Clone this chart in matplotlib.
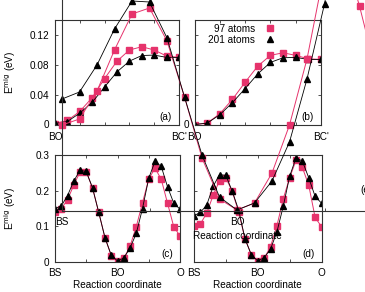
import matplotlib
matplotlib.use('Agg')
import matplotlib.pyplot as plt
from matplotlib.lines import Line2D

plt.rcParams['font.family'] = ['Liberation Sans', 'DejaVu Sans']
plt.rcParams['font.size'] = 7.2

PINK = '#e6336c'
BLACK = '#000000'

# panel (a): BO -> BC'
a_97 = [0.0013, 0.0054, 0.0175, 0.036, 0.0616, 0.0849, 0.0998, 0.1042, 0.0998, 0.0917, 0.0899]
a_201 = [0.0015, 0.004, 0.0152, 0.0297, 0.0503, 0.0705, 0.0849, 0.0924, 0.0930, 0.0899, 0.0899]
# panel (b): BO -> BC'
b_97 = [0.0, 0.0018, 0.0144, 0.0337, 0.0566, 0.0782, 0.0926, 0.0961, 0.0926, 0.088, 0.0872]
b_201 = [0.0, 0.0018, 0.0131, 0.0293, 0.0481, 0.0678, 0.0832, 0.0894, 0.0899, 0.0872, 0.0872]
# panel (c): BS -> BO -> O
c_97 = [0.141, 0.150, 0.174, 0.216, 0.252, 0.252, 0.208, 0.139, 0.068, 0.018, 0.002,
        0.010, 0.044, 0.099, 0.166, 0.233, 0.263, 0.232, 0.165, 0.099, 0.073]
c_201 = [0.150, 0.157, 0.186, 0.227, 0.257, 0.254, 0.208, 0.139, 0.068, 0.019, 0.003,
         0.011, 0.039, 0.080, 0.150, 0.235, 0.282, 0.268, 0.211, 0.165, 0.148]
# panel (d): BS -> BO -> O
d_97 = [0.101, 0.107, 0.137, 0.187, 0.228, 0.236, 0.198, 0.140, 0.065, 0.020, 0.003,
        0.010, 0.043, 0.101, 0.177, 0.236, 0.285, 0.265, 0.215, 0.125, 0.099]
d_201 = [0.130, 0.139, 0.160, 0.212, 0.245, 0.243, 0.198, 0.146, 0.065, 0.020, 0.003,
         0.012, 0.036, 0.084, 0.156, 0.240, 0.292, 0.283, 0.236, 0.184, 0.165]
# panel (e): BS -> BO -> O
e_97 = [0.172, 0.184, 0.240, 0.322, 0.394, 0.406, 0.340, 0.228, 0.106, 0.024, 0.002,
        0.016, 0.076, 0.172, 0.304, 0.482, 0.530, 0.410, 0.270, 0.190, 0.160]
e_201 = [0.224, 0.238, 0.292, 0.364, 0.420, 0.418, 0.346, 0.228, 0.112, 0.028, 0.002,
         0.016, 0.060, 0.138, 0.264, 0.414, 0.602, 0.520, 0.400, 0.330, 0.300]

W, H = 365, 292


def add_panel(fig, left, right, top, bottom):
    return fig.add_axes([left / W, 1 - bottom / H, (right - left) / W, (bottom - top) / H])


def style(ax):
    for s in ax.spines.values():
        s.set_linewidth(0.8)
        s.set_color('#333333')
    ax.tick_params(direction='in', length=2.5, width=0.6, top=True, right=True,
                   labelsize=7.2, colors='#333333', labelcolor='black')
    ax.tick_params(axis='x', pad=4.5)
    ax.tick_params(axis='y', pad=4.0)


def draw(ax, y97, y201, clip=True):
    x = list(range(len(y97)))
    ax.plot(x, y97, '-', color=PINK, lw=0.7, marker='s', ms=3.8, mec=PINK,
            clip_on=clip)
    ax.plot(x, y201, '-', color=BLACK, lw=0.6, marker='^', ms=4.5, clip_on=clip)


fig = plt.figure(figsize=(W / 100, H / 100), dpi=100)

ax_a = add_panel(fig, 55, 179, 20, 124.5)
ax_b = add_panel(fig, 194.5, 321, 20, 124.5)
ax_c = add_panel(fig, 55, 180, 155, 262)
ax_d = add_panel(fig, 194, 321.5, 155, 262)

for ax, (y97, y201) in zip([ax_a, ax_b], [(a_97, a_201), (b_97, b_201)]):
    style(ax)
    draw(ax, y97, y201)
    ax.set_xlim(0, 10)
    ax.set_ylim(0, 0.14)
    ax.set_xticks(range(0, 11, 2))
    ax.set_xticklabels(['BO', '', '', '', '', "BC'"])
    ax.tick_params(axis='x', pad=5.5)

ax_a.set_yticks([0, 0.04, 0.08, 0.12])
ax_a.set_yticklabels(['0', '0.04', '0.08', '0.12'])
ax_b.set_yticks([0, 0.04, 0.08, 0.12])
ax_b.set_yticklabels(['0', '', '', ''])

for ax, (y97, y201) in zip([ax_c, ax_d], [(c_97, c_201), (d_97, d_201)]):
    style(ax)
    draw(ax, y97, y201)
    ax.set_xlim(0, 20)
    ax.set_ylim(0, 0.3)
    ax.set_xticks(range(0, 21, 5))
    ax.set_xticklabels(['BS', '', 'BO', '', 'O'])
    ax.set_yticks([0, 0.1, 0.2, 0.3])
    ax.set_xlabel('Reaction coordinate', fontsize=7.2)
    ax.xaxis.set_label_coords(0.5, -0.17)

ax_c.set_yticklabels(['0', '0.1', '0.2', '0.3'])
ax_d.set_yticklabels(['', '', '', ''])

for ax in [ax_a, ax_c]:
    ax.set_ylabel('E$^{\\rm mig}$ (eV)', fontsize=7.2)
    ax.yaxis.set_label_coords(-0.295, 0.5)

for ax, lab in zip([ax_a, ax_b, ax_c, ax_d], ['(a)', '(b)', '(c)', '(d)']):
    ax.text(0.895, 0.075, lab, transform=ax.transAxes, ha='center', va='center',
            fontsize=7.2)

handles = [Line2D([], [], ls='none', marker='s', color=PINK, ms=3.8),
           Line2D([], [], ls='none', marker='^', color=BLACK, ms=4.5)]
ax_b.legend(handles, ['97 atoms', '201 atoms'], loc='upper left',
            bbox_to_anchor=(0.105, 0.962), frameon=False, markerfirst=False,
            handlelength=1.0, handletextpad=1.0, labelspacing=0.1,
            borderpad=0, borderaxespad=0, fontsize=7.2)

# panel (e), larger frame partly outside the canvas
ax_e = add_panel(fig, 62, 412, -89, 211)
ax_e.patch.set_visible(False)
style(ax_e)
draw(ax_e, e_97, e_201, clip=False)
ax_e.set_xlim(0, 20)
ax_e.set_ylim(0, 0.6)
ax_e.set_xticks(range(0, 21, 5))
ax_e.set_xticklabels(['BS', '', 'BO', '', 'O'])
ax_e.set_yticks([])
ax_e.set_xlabel('Reaction coordinate', fontsize=7.2)
ax_e.xaxis.set_label_coords(0.5, -0.066)
ax_e.text(0.87, 0.07, '(e)', transform=ax_e.transAxes, ha='center', va='center',
          fontsize=7.2)

fig.savefig('out.png', dpi=100)
